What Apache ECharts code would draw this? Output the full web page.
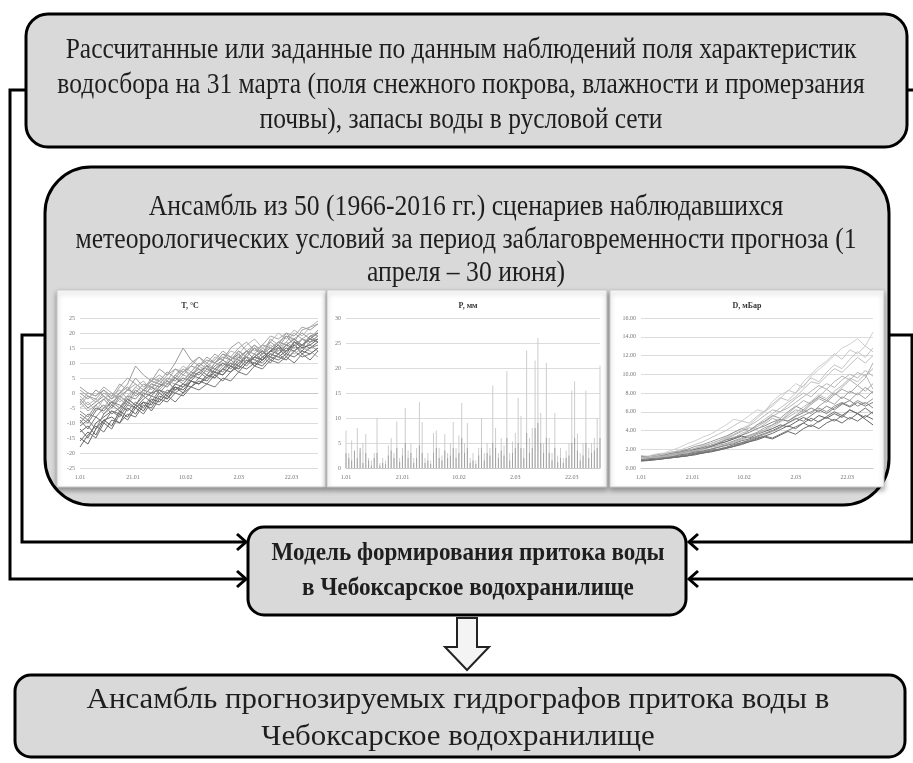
<!DOCTYPE html>
<html><head><meta charset="utf-8">
<script src="https://cdn.jsdelivr.net/npm/echarts@6/dist/echarts.min.js"></script>
<style>html,body{margin:0;padding:0;background:#fff}#c{width:913px;height:763px}</style>
</head><body><div id="c"></div>
<script>
// ---------- texts ----------
const topLines = [
  'Рассчитанные или заданные по данным наблюдений поля характеристик',
  'водосбора на 31 марта (поля снежного покрова, влажности и промерзания',
  'почвы), запасы воды в русловой сети'
];
const ensLines = [
  'Ансамбль из 50 (1966-2016 гг.) сценариев наблюдавшихся',
  'метеорологических условий за период заблаговременности прогноза (1',
  'апреля – 30 июня)'
];
const modelLines = ['Модель формирования притока воды', 'в Чебоксарское водохранилище'];
const resultLines = ['Ансамбль прогнозируемых гидрографов притока воды в', 'Чебоксарское водохранилище'];
const panelTitles = ['T, °C', 'P, мм', 'D, мБар'];
const xTickLabels = ['1.01', '21.01', '10.02', '2.03', '22.03'];

// ---------- data ----------
const sampleDays = [0,3,6,9,12,15,18,21,24,27,30,33,36,39,42,45,48,51,54,57,60,63,66,69,72,75,78,81,84,87,90];
const tempSeries = [
  [-2,-5,-3,-1,-4,0,2,-1,1,3,2,5,4,7,9,8,6,10,12,11,9,13,15,12,14,17,16,18,15,19,20],
  [-12,-15,-10,-8,-6,-7,-3,-5,-2,0,1,-1,3,5,4,7,9,6,8,11,13,10,12,14,11,13,16,15,18,17,19],
  [1,-1,-3,0,-2,2,5,3,1,4,6,4,8,7,10,12,9,11,14,12,15,17,14,16,19,18,20,17,21,22,23],
  [-8,-10,-6,-4,-7,-5,-2,-4,0,-1,2,4,1,3,6,5,8,7,10,9,12,10,13,11,14,15,12,16,14,17,18],
  [-5,-3,-6,-2,0,-3,-1,2,0,3,5,3,6,9,7,10,8,12,11,14,13,16,18,15,17,20,18,21,19,22,24],
  [-15,-17,-12,-9,-11,-6,-8,-4,-6,-2,-3,0,2,0,4,3,6,5,8,7,10,12,9,11,13,12,14,16,13,15,17],
  [0,-2,1,-1,-3,-1,1,0,3,2,4,7,5,8,6,9,11,10,13,12,11,14,13,16,15,17,19,18,20,18,21],
  [-10,-7,-8,-5,-3,-5,-1,-2,1,0,3,2,5,4,7,6,9,8,7,10,9,12,11,10,13,12,11,14,16,15,16],
  [-3,-6,-4,-7,-5,-2,-4,0,-1,2,1,4,3,6,5,9,7,10,9,11,14,12,15,13,16,14,17,15,18,20,19],
  [-18,-14,-11,-13,-9,-10,-7,-8,-4,-5,-1,-2,1,3,2,5,4,7,6,9,8,11,10,12,14,13,15,14,16,18,17],
  [2,0,-1,1,-2,0,3,9,6,4,8,6,10,15,11,9,12,10,13,11,14,12,15,13,17,15,19,16,18,16,14],
  [-7,-9,-5,-6,-3,-4,-6,-3,-5,-1,-2,1,0,2,4,3,6,5,8,10,8,11,9,12,10,13,11,14,12,13,15],
  [-1,-4,-2,-5,-1,1,-2,2,4,1,5,3,6,8,5,7,10,8,11,9,13,10,12,15,13,14,16,13,15,14,12],
  [-13,-11,-14,-9,-8,-10,-5,-7,-3,-4,0,-2,2,1,4,3,5,7,6,9,7,10,12,11,14,16,13,17,15,16,18],
  [-4,-1,-2,1,-1,3,1,5,2,4,3,6,8,6,9,12,10,13,11,15,17,14,16,13,18,16,20,19,22,21,23],
  [-9,-12,-8,-10,-6,-8,-4,-5,-7,-3,-4,-1,-3,0,2,1,3,2,5,4,7,6,9,8,11,10,12,10,13,11,14],
  [-6,-8,-4,-2,-5,-1,-3,1,-1,2,0,3,5,3,6,8,6,9,11,9,12,14,11,13,15,13,16,18,16,19,17],
  [-16,-13,-15,-10,-12,-7,-9,-5,-3,-6,-2,-3,0,-1,2,4,3,6,4,7,9,8,10,9,12,11,13,12,14,13,15],
  [-3,0,-1,2,0,-2,1,3,1,5,4,2,6,4,7,10,8,6,9,12,10,13,16,14,12,15,17,20,18,17,19],
  [-11,-9,-12,-7,-4,-6,-2,-4,-1,-3,1,0,3,2,5,7,5,8,10,8,11,9,12,14,12,15,14,17,16,18,20]
];
const deficitSeries = [
  [1.2,1.3,1.5,1.6,1.9,2.2,2.6,2.9,3.3,3.6,4.1,4.6,5.2,5.0,5.6,6.2,6.0,7.1,7.8,8.2,9.0,8.6,9.8,10.5,11.2,12.0,12.8,13.2,13.8,13.0,14.5],
  [1.0,1.1,1.2,1.4,1.5,1.7,1.9,2.1,2.4,2.6,2.9,3.3,3.8,4.2,4.6,5.3,6.0,6.6,7.4,8.3,8.0,9.2,10.0,10.8,11.4,12.2,11.6,12.6,12.2,13.0,12.4],
  [0.9,1.0,1.1,1.2,1.3,1.5,1.6,1.8,2.0,2.3,2.5,2.8,3.2,3.7,4.0,4.6,5.2,5.8,6.4,7.0,7.6,8.4,9.2,9.0,9.8,10.6,10.2,11.0,11.8,11.2,12.0],
  [1.1,1.0,1.2,1.3,1.4,1.6,1.8,1.9,2.2,2.4,2.6,3.0,3.3,3.5,4.0,4.4,4.9,5.5,6.0,6.4,7.0,7.6,8.2,8.8,8.4,9.2,9.8,9.4,10.2,9.8,10.6],
  [0.8,0.9,1.0,1.1,1.2,1.3,1.5,1.6,1.8,2.0,2.2,2.5,2.8,3.1,3.4,3.7,4.1,4.6,5.0,5.6,6.2,6.0,6.8,7.4,7.0,7.8,8.4,8.0,8.8,8.2,9.0],
  [1.0,1.1,1.1,1.3,1.4,1.5,1.7,1.8,2.0,2.2,2.4,2.6,2.9,3.2,3.5,3.8,4.3,4.6,5.2,5.0,5.6,6.2,5.8,6.6,7.2,6.8,7.6,7.2,8.0,7.4,8.2],
  [0.7,0.8,0.9,1.0,1.1,1.2,1.3,1.5,1.6,1.8,2.0,2.2,2.4,2.7,3.0,3.3,3.6,3.9,4.3,4.8,5.2,5.6,6.0,6.4,6.0,6.6,7.0,6.6,7.2,6.8,7.4],
  [1.2,1.2,1.3,1.4,1.6,1.7,1.9,2.0,2.2,2.4,2.7,3.0,3.2,3.5,3.8,4.2,4.5,4.9,5.2,5.0,5.5,5.9,6.4,6.0,6.6,6.2,6.8,7.2,6.6,7.0,6.4],
  [0.9,0.9,1.0,1.1,1.2,1.3,1.4,1.6,1.7,1.9,2.0,2.2,2.5,2.7,2.9,3.2,3.4,3.2,3.6,4.0,4.4,4.8,4.4,5.0,5.4,5.0,5.6,5.2,5.8,5.4,6.0],
  [0.8,0.9,0.9,1.0,1.1,1.2,1.3,1.4,1.6,1.7,1.9,2.1,2.3,2.5,2.8,3.0,3.3,3.1,3.5,3.9,3.6,4.2,4.6,4.2,4.8,5.2,4.8,5.4,5.0,5.6,5.2],
  [1.1,1.2,1.2,1.3,1.5,1.6,1.8,2.0,2.1,2.3,2.6,2.8,3.1,3.4,3.2,3.6,3.9,4.2,4.6,4.4,4.9,5.4,5.0,5.6,5.3,5.8,5.4,6.2,5.8,5.2,4.6],
  [1.0,1.0,1.1,1.2,1.3,1.4,1.6,1.7,1.9,2.0,2.3,2.5,2.7,3.0,3.3,3.6,4.0,4.4,4.9,5.4,5.9,6.5,7.1,7.8,7.4,8.2,8.8,9.6,9.2,10.0,8.4],
  [0.9,1.0,1.1,1.2,1.4,1.5,1.7,1.9,2.1,2.4,2.7,3.1,3.5,3.9,4.3,4.1,4.7,5.3,5.0,5.8,6.5,7.2,6.8,7.6,8.4,7.8,8.6,9.4,8.8,9.6,11.2],
  [1.3,1.2,1.4,1.5,1.7,1.8,2.0,2.3,2.5,2.8,3.1,3.4,3.8,4.2,4.0,4.6,5.0,5.6,5.3,6.0,6.6,6.2,7.0,7.6,7.2,8.0,7.4,8.2,7.8,8.6,8.0],
  [1.1,1.2,1.3,1.5,1.7,1.9,2.2,2.5,2.8,3.2,3.6,4.0,4.5,5.0,4.8,5.5,6.1,6.8,7.5,7.2,8.0,8.8,9.6,9.2,10.2,11.0,10.6,11.6,12.4,11.8,12.8],
  [0.9,1.0,1.0,1.1,1.2,1.4,1.5,1.7,1.8,2.0,2.2,2.4,2.6,2.9,3.1,3.4,3.7,4.0,4.4,4.8,5.3,5.0,5.6,6.2,5.8,6.4,6.9,6.5,7.0,6.6,7.0],
  [1.0,1.1,1.2,1.3,1.5,1.6,1.8,2.1,2.3,2.6,2.9,3.2,3.6,4.0,4.5,5.0,5.6,6.2,6.0,6.7,7.4,8.0,7.6,8.4,9.0,8.6,9.4,10.0,9.6,10.4,9.8],
  [0.8,0.8,0.9,1.0,1.1,1.2,1.3,1.5,1.6,1.8,1.9,2.1,2.3,2.6,2.8,3.1,3.4,3.7,4.1,4.5,4.2,4.8,5.3,4.9,5.5,6.0,5.6,6.2,5.8,6.4,5.8]
];
const precipDays = [0,1,2,3,4,5,6,7,8,9,10,11,12,13,14,15,16,17,18,19,20,21,22,23,24,25,26,27,28,29,30,31,32,33,34,35,36,37,38,39,40,41,42,43,44,45,46,47,48,49,50,51,52,53,54,55,56,57,58,59,60,61,62,63,64,65,66,67,68,69,70,71,72,73,74,75,76,77,78,79,80,81,82,83,84,85,86,87,88,89,90];
const precipMax = [7.5,3,5.5,2.5,8,3,5,6.8,2,1.5,3,10,1,2,1.5,4.5,6,3,9.3,2,4,12,3.5,5,2,4,13.2,9.2,2,3,1.5,7,7.5,4,2.5,6.8,3,5,9.2,4,6.5,13,5,9,2,3,1.5,4,10,3,5,4,16.5,8,3,6,4.5,19.4,3,5.3,7,14,10.4,4,23.5,6,8,21.5,26,11,5,21,6,3,11,2.5,4,2,3.5,5,15.5,17.3,6.9,3,5,15.5,4,5,6,10,20.5];
const precipMid = [3,2,1.5,3.5,2,4,1,3,1.5,0.5,2,3,0.5,1,0.8,2.5,3.5,2,4,1.2,2.5,5,2,3,1,2,4.5,3,1,1.5,0.8,3,4,2,1.5,3.5,2,2.5,4,2,3,6,3,4,1,1.5,0.8,2.5,4,1.5,3,2.5,5,4,2,3.5,2.5,6,1.5,3,4,5,4,2,7,3,4,8,9,5,3,6,3,1.5,4,1.2,2,1,2,2.5,5,6,3.5,1.5,2.5,5,2,3,3.5,4,6];

// ---------- styling helpers ----------
const SERIF = '"Liberation Serif", "Times New Roman", serif';
const tempColors = ['#8c8c8c','#6e6e6e','#a6a6a6','#7d7d7d','#b5b5b5','#5f5f5f','#999999','#888888','#aaaaaa','#707070','#9c9c9c','#808080','#b0b0b0','#666666','#a0a0a0','#777777'];
const defColors = ['#d0d0d0','#c8c8c8','#c0c0c0','#b4b4b4','#aaaaaa','#a2a2a2','#959595','#888888','#7a7a7a','#6c6c6c','#626262','#bcbcbc','#b0b0b0','#9c9c9c','#c4c4c4','#808080','#b8b8b8','#707070'];

const grids = [
  {left: 80, top: 318, width: 238, height: 150},
  {left: 346, top: 318, width: 254, height: 150},
  {left: 641, top: 318, width: 232, height: 150}
];
function xAx(i) {
  return {
    gridIndex: i, type: 'value', min: 0, max: 90, interval: 20,
    axisLine: {show: true, lineStyle: {color: '#c8c8c8', width: 1}},
    axisTick: {show: false}, splitLine: {show: false},
    axisLabel: {fontSize: 6, color: '#777', fontFamily: SERIF, margin: 6,
      formatter: v => (v % 20 === 0 && xTickLabels[v / 20]) ? xTickLabels[v / 20] : ''}
  };
}
function yAx(i, min, max, interval, fmt) {
  return {
    gridIndex: i, type: 'value', min, max, interval,
    axisLine: {show: false}, axisTick: {show: false},
    splitLine: {show: true, lineStyle: {color: '#dcdcdc', width: 1}},
    axisLabel: {fontSize: 6, color: '#777', fontFamily: SERIF, margin: 5, formatter: fmt}
  };
}

const series = [];
series.push({
  type: 'bar', xAxisIndex: 1, yAxisIndex: 1, barWidth: 1, barGap: '-100%', silent: true,
  itemStyle: {color: '#cdcdcd'}, data: precipDays.map((d, j) => [d, precipMax[j]])
});
series.push({
  type: 'bar', xAxisIndex: 1, yAxisIndex: 1, barWidth: 1, barGap: '-100%', silent: true,
  itemStyle: {color: '#a4a4a4'}, data: precipDays.map((d, j) => [d, precipMid[j]])
});
tempSeries.forEach((vals, k) => series.push({
  type: 'line', xAxisIndex: 0, yAxisIndex: 0, symbol: 'none', silent: true,
  lineStyle: {width: 1, color: tempColors[k % tempColors.length]},
  data: sampleDays.map((d, j) => [d, vals[j]])
}));
deficitSeries.forEach((vals, k) => series.push({
  type: 'line', xAxisIndex: 2, yAxisIndex: 2, symbol: 'none', silent: true,
  lineStyle: {width: 1, color: defColors[k % defColors.length]},
  data: sampleDays.map((d, j) => [d, vals[j]])
}));

// ---------- diagram graphics ----------
const BOX = '#d9d9d9';
function txt(x, y, s, size, opts) {
  opts = opts || {};
  return {
    type: 'text', x, y, z: -2, scaleX: opts.sx || 1, silent: true,
    style: {text: s, fontSize: size, fontFamily: SERIF, fontWeight: opts.bold ? 'bold' : 'normal',
      fill: opts.color || '#1e1e1e', align: 'center', verticalAlign: 'middle',
      textAlign: 'center', textVerticalAlign: 'middle'}
  };
}
function rrect(x, y, w, h, r) {
  return {type: 'rect', z: -20, silent: true, shape: {x, y, width: w, height: h, r},
    style: {fill: BOX, stroke: '#000', lineWidth: 3}};
}
function pline(points) {
  return {type: 'polyline', z: -30, silent: true, shape: {points},
    style: {stroke: '#000', lineWidth: 3, fill: null, lineJoin: 'miter'}};
}
const g = [];
// connectors
g.push(pline([[28, 90], [10, 90], [10, 579], [245, 579]]));
g.push(pline([[237, 571], [246, 579], [237, 587]]));
g.push(pline([[47, 335], [22, 335], [22, 542], [245, 542]]));
g.push(pline([[237, 534], [246, 542], [237, 550]]));
g.push(pline([[905, 90], [925, 90]]));
g.push(pline([[925, 579], [690, 579]]));
g.push(pline([[698, 571], [689, 579], [698, 587]]));
g.push(pline([[887, 335], [912, 335], [912, 542], [690, 542]]));
g.push(pline([[698, 534], [689, 542], [698, 550]]));
// boxes
g.push(rrect(26, 14, 881, 133, 22));
g.push(rrect(45, 167, 844, 338, 46));
g.push(rrect(248, 527, 438, 88, 16));
g.push(rrect(15, 675, 890, 82, 16));
// hollow arrow
g.push({type: 'polygon', z: -20, silent: true,
  shape: {points: [[457, 618], [477, 618], [477, 647], [489, 647], [467, 670], [445, 647], [457, 647]]},
  style: {fill: '#f4f4f4', stroke: '#222', lineWidth: 2}});
// chart panels
[[57, 290, 269, 197], [327, 290, 280, 197], [610, 290, 274, 197]].forEach(p => g.push({
  type: 'rect', z: -10, silent: true, shape: {x: p[0], y: p[1], width: p[2], height: p[3]},
  style: {fill: '#ffffff', stroke: '#c8c8c8', lineWidth: 1,
    shadowBlur: 5, shadowOffsetY: 3, shadowColor: 'rgba(0,0,0,0.35)'}
}));
// panel titles
g.push(txt(190, 306, panelTitles[0], 8, {bold: true, color: '#333'}));
g.push(txt(468, 306, panelTitles[1], 8, {bold: true, color: '#333'}));
g.push(txt(747, 306, panelTitles[2], 8, {bold: true, color: '#333'}));
// texts
const topY = [50, 85, 120];
topLines.forEach((s, i) => g.push(txt(461, topY[i], s, 30, {sx: 0.85})));
const ensY = [207, 240, 273];
ensLines.forEach((s, i) => g.push(txt(466, ensY[i], s, 30, {sx: 0.855})));
const modY = [553, 588];
modelLines.forEach((s, i) => g.push(txt(468, modY[i], s, 26, {bold: true, sx: 0.89})));
const resY = [700, 737];
resultLines.forEach((s, i) => g.push(txt(458, resY[i], s, 30, {sx: 1.03})));

const chart = echarts.init(document.getElementById('c'), null, {renderer: 'canvas'});
chart.setOption({
  animation: false,
  backgroundColor: '#ffffff',
  grid: grids,
  xAxis: [xAx(0), xAx(1), xAx(2)],
  yAxis: [
    yAx(0, -25, 25, 5, v => String(v)),
    yAx(1, 0, 30, 5, v => String(v)),
    yAx(2, 0, 16, 2, v => v.toFixed(2))
  ],
  graphic: {elements: g},
  series
});
</script></body></html>
